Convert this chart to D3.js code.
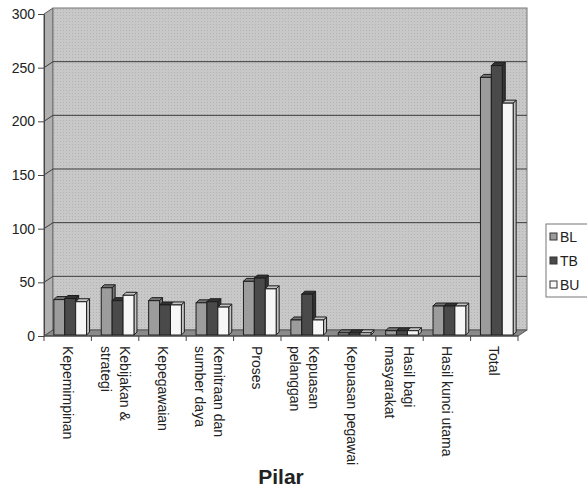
<!DOCTYPE html>
<html>
<head>
<meta charset="utf-8">
<script src="https://cdn.jsdelivr.net/npm/d3@7"></script>
<style>
  body { margin: 0; background: #fff; }
  svg { display: block; font-family: "Liberation Sans", Arial, sans-serif; }
</style>
</head>
<body>
<svg id="chart" width="587" height="489"></svg>
<script>
// data
const categories = ["Kepemimpinan", "Kebijakan & strategi", "Kepegawaian", "Kemitraan dan sumber daya",
  "Proses", "Kepuasan pelanggan", "Kepuasan pegawai", "Hasil bagi masyarakat", "Hasil kunci utama", "Total"];
const categoryLines = [["Kepemimpinan"], ["Kebijakan &", "strategi"], ["Kepegawaian"], ["Kemitraan dan", "sumber daya"],
  ["Proses"], ["Kepuasan", "pelanggan"], ["Kepuasan pegawai"], ["Hasil bagi", "masyarakat"], ["Hasil kunci utama"], ["Total"]];
const seriesNames = ["BL", "TB", "BU"];
const blValues = [33, 44, 32, 30, 50, 14, 2, 4, 27, 240];
const tbValues = [34, 32, 28, 31, 53, 38, 2, 4, 27, 251];
const buValues = [31, 37, 28, 26, 43, 14, 2, 4, 27, 216];
const yTicks = [0, 50, 100, 150, 200, 250, 300];

const seriesValues = [blValues, tbValues, buValues];
const fills = { BL: "#9c9c9c", TB: "#4a4a4a", BU: "#f7f7f7" };
const sides = { BL: "#747474", TB: "#333", BU: "#c4c4c4" };

const svg = d3.select("#chart");

// dotted texture like the scanned wall
const pat = svg.append("defs").append("pattern")
  .attr("id", "wall").attr("width", 3).attr("height", 3)
  .attr("patternUnits", "userSpaceOnUse");
pat.append("rect").attr("width", 3).attr("height", 3).attr("fill", "#c8c8c8");
pat.append("rect").attr("width", 1).attr("height", 1).attr("fill", "#b2b2b2");

// front plane of the 3D box
const plotLeft = 44, plotRight = 518, plotBottom = 336, plotTop = 14;
const wdx = 9, wdy = -6;   // wall depth offset

const x = d3.scaleBand().domain(categories).range([plotLeft, plotRight])
  .paddingInner(0.31).paddingOuter(0.155);
const x1 = d3.scaleBand().domain(seriesNames).range([0, x.bandwidth()]);
const y = d3.scaleLinear().domain([0, 300]).range([plotBottom, plotTop]);

// walls and floor
svg.append("polygon")
  .attr("points", [[plotLeft, y(300)], [plotLeft + wdx, y(300) + wdy], [plotLeft + wdx, plotBottom + wdy], [plotLeft, plotBottom]].join(" "))
  .attr("fill", "#b0b0b0").attr("stroke", "#555").attr("stroke-width", 1);
svg.append("rect")
  .attr("x", plotLeft + wdx).attr("y", y(300) + wdy)
  .attr("width", plotRight - plotLeft).attr("height", plotBottom - y(300))
  .attr("fill", "url(#wall)").attr("stroke", "#777").attr("stroke-width", 1);
svg.append("polygon")
  .attr("points", [[plotLeft, plotBottom], [plotRight, plotBottom], [plotRight + wdx, plotBottom + wdy], [plotLeft + wdx, plotBottom + wdy]].join(" "))
  .attr("fill", "#8a8a8a").attr("stroke", "#555").attr("stroke-width", 1);

// gridlines on back and side wall
const grid = svg.append("g").attr("stroke", "#3c3c3c").attr("stroke-width", 1);
yTicks.filter(d => d > 0 && d < 300).forEach(v => {
  grid.append("line")
    .attr("x1", plotLeft + wdx).attr("x2", plotRight + wdx)
    .attr("y1", y(v) + wdy).attr("y2", y(v) + wdy);
  grid.append("line")
    .attr("x1", plotLeft).attr("x2", plotLeft + wdx)
    .attr("y1", y(v)).attr("y2", y(v) + wdy);
});

// y axis
const yAxis = svg.append("g")
  .attr("transform", `translate(${plotLeft},0)`)
  .call(d3.axisLeft(y).tickValues(yTicks).tickSize(6).tickSizeOuter(0).tickPadding(3));
yAxis.select(".domain").attr("stroke", "#444");
yAxis.selectAll(".tick line").attr("stroke", "#444");
yAxis.selectAll("text").attr("font-size", 14).attr("fill", "#222")
  .attr("font-family", "Liberation Sans, Arial, sans-serif");

// bars
const bdx = 2.5, bdy = -1;   // bar offset into depth
const ddx = 3, ddy = -3;     // bar depth
const bars = svg.append("g");
categories.forEach((c, i) => {
  seriesNames.forEach((s, j) => {
    const v = seriesValues[j][i];
    const x0 = x(c) + x1(s) + bdx;
    const w = x1.bandwidth();
    const yb = y(0) + bdy;
    const yt = y(v) + bdy;
    // side face
    bars.append("polygon")
      .attr("points", [[x0 + w, yb], [x0 + w + ddx, yb + ddy], [x0 + w + ddx, yt + ddy], [x0 + w, yt]].join(" "))
      .attr("fill", sides[s]).attr("stroke", "#1e1e1e").attr("stroke-width", 1);
    // top face
    bars.append("polygon")
      .attr("points", [[x0, yt], [x0 + ddx, yt + ddy], [x0 + w + ddx, yt + ddy], [x0 + w, yt]].join(" "))
      .attr("fill", sides[s]).attr("stroke", "#1e1e1e").attr("stroke-width", 1);
    // front face
    bars.append("rect")
      .attr("x", x0).attr("y", yt)
      .attr("width", w).attr("height", yb - yt)
      .attr("fill", fills[s]).attr("stroke", "#1e1e1e").attr("stroke-width", 1);
  });
});

// category axis
const xa = svg.append("g").attr("stroke", "#444").attr("stroke-width", 1);
xa.append("line").attr("x1", plotLeft).attr("x2", plotRight).attr("y1", plotBottom).attr("y2", plotBottom);
const half = (x.step() - x.bandwidth()) / 2;
categories.concat([null]).forEach(c => {
  const xb = c === null ? plotRight : x(c) - half;
  xa.append("line").attr("x1", xb).attr("x2", xb).attr("y1", plotBottom).attr("y2", plotBottom + 5);
});

const lineH = 19;
categories.forEach((c, i) => {
  const lines = categoryLines[i];
  const cx = x(c) + x.bandwidth() / 2;
  const t = svg.append("text")
    .attr("transform", `translate(${cx},346) rotate(90)`)
    .attr("font-size", 14).attr("fill", "#222")
    .attr("dominant-baseline", "central");
  lines.forEach((ln, k) => {
    t.append("tspan").attr("x", 0)
      .attr("y", (k - (lines.length - 1) / 2) * lineH)
      .text(ln);
  });
});

// axis title
svg.append("text")
  .attr("x", 281).attr("y", 484)
  .attr("text-anchor", "middle")
  .attr("font-size", 21).attr("font-weight", "bold").attr("fill", "#222")
  .text("Pilar");

// legend
const legend = svg.append("g");
legend.append("rect")
  .attr("x", 546).attr("y", 224).attr("width", 60).attr("height", 73)
  .attr("fill", "#fff").attr("stroke", "#777");
seriesNames.forEach((s, j) => {
  const ly = 237 + j * 24;
  legend.append("rect")
    .attr("x", 550).attr("y", ly - 4).attr("width", 7).attr("height", 7)
    .attr("fill", fills[s]).attr("stroke", "#333");
  legend.append("text")
    .attr("x", 560).attr("y", ly)
    .attr("dominant-baseline", "central")
    .attr("font-size", 14).attr("fill", "#222")
    .text(s);
});
</script>
</body>
</html>
